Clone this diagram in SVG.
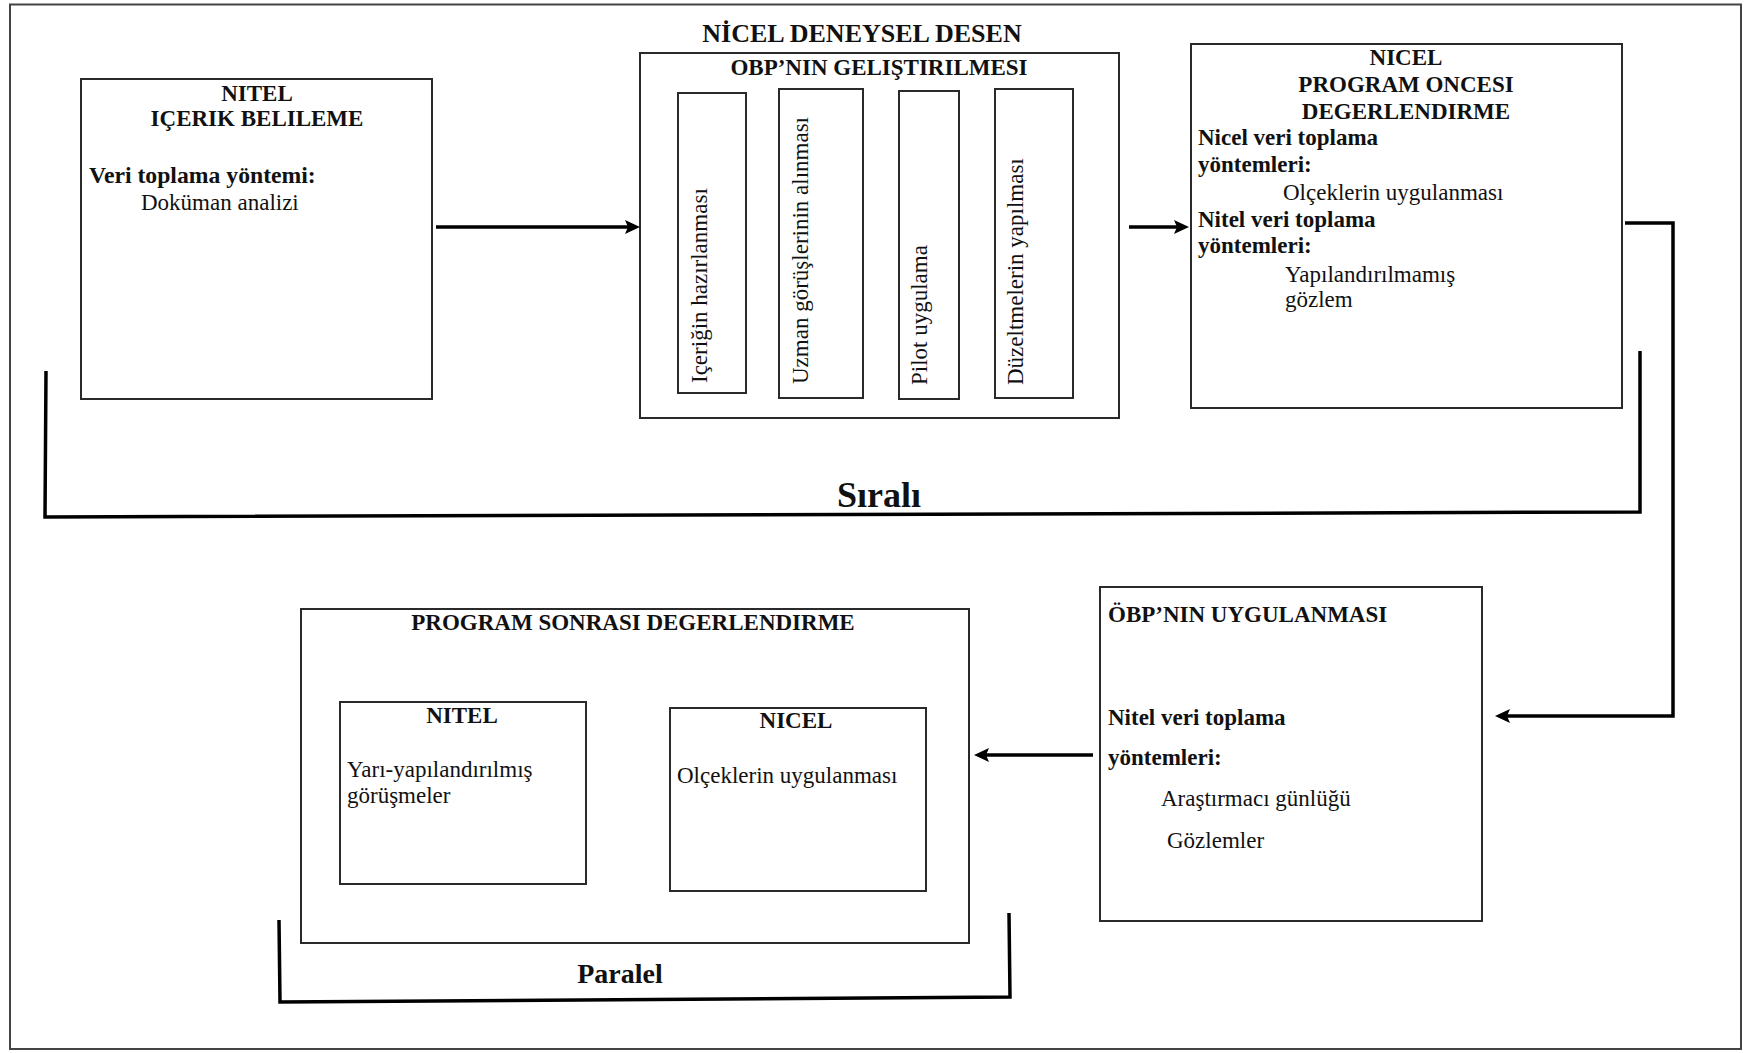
<svg xmlns="http://www.w3.org/2000/svg" width="1744" height="1053" viewBox="0 0 1744 1053">
<style>
.box{fill:#fff;stroke:#2a2a2a;stroke-width:2}
.frame{fill:none;stroke:#444;stroke-width:2}
.con{fill:none;stroke:#000;stroke-width:3.5}
.br{fill:none;stroke:#000;stroke-width:3.5}
.t{font-family:"Liberation Serif","Times New Roman",serif;font-size:23px;fill:#111}
.b{font-weight:bold}
.c{text-anchor:middle}
</style>
<defs>
<marker id="ah" markerUnits="userSpaceOnUse" markerWidth="16" markerHeight="16" viewBox="0 0 16 14" refX="10" refY="7" orient="auto">
<path d="M0,0 L15,7 L0,14 L3,7 z" fill="#000"/>
</marker>
</defs>
<rect width="1744" height="1053" fill="#fff"/>
<rect class="frame" x="10" y="4.5" width="1731" height="1044.5"/>

<g id="n-nitel-icerik">
<rect class="box" x="81" y="79" width="351" height="320"/>
<text class="t b c" x="257" y="101">NITEL</text>
<text class="t b c" x="257" y="126">IÇERIK BELILEME</text>
<text class="t b" x="89" y="183" style="font-size:23.7px">Veri toplama yöntemi:</text>
<text class="t" x="141" y="210">Doküman analizi</text>
</g>

<g id="n-obp-gelistirme">
<text class="t b c" x="862" y="42" style="font-size:26px">NİCEL DENEYSEL DESEN</text>
<rect class="box" x="640" y="53" width="479" height="365"/>
<text class="t b c" x="879" y="75">OBP’NIN GELIŞTIRILMESI</text>
<g id="n-icerik">
<rect class="box" x="678" y="93" width="68" height="300"/>
<text class="t" transform="translate(707,383) rotate(-90)">Içeriğin hazırlanması</text>
</g>
<g id="n-uzman">
<rect class="box" x="779" y="89" width="84" height="309"/>
<text class="t" transform="translate(808,384) rotate(-90)">Uzman görüşlerinin alınması</text>
</g>
<g id="n-pilot">
<rect class="box" x="899" y="91" width="60" height="308"/>
<text class="t" transform="translate(927,385) rotate(-90)">Pilot uygulama</text>
</g>
<g id="n-duzeltme">
<rect class="box" x="995" y="89" width="78" height="309"/>
<text class="t" transform="translate(1023,385) rotate(-90)">Düzeltmelerin yapılması</text>
</g>
</g>

<g id="n-program-oncesi">
<rect class="box" x="1191" y="44" width="431" height="364"/>
<text class="t b c" x="1406" y="65">NICEL</text>
<text class="t b c" x="1406" y="92">PROGRAM ONCESI</text>
<text class="t b c" x="1406" y="119">DEGERLENDIRME</text>
<text class="t b" x="1198" y="145">Nicel veri toplama</text>
<text class="t b" x="1198" y="172">yöntemleri:</text>
<text class="t" x="1283" y="200">Olçeklerin uygulanması</text>
<text class="t b" x="1198" y="227">Nitel veri toplama</text>
<text class="t b" x="1198" y="253">yöntemleri:</text>
<text class="t" x="1285" y="282">Yapılandırılmamış</text>
<text class="t" x="1285" y="307">gözlem</text>
</g>

<g id="n-obp-uygulama">
<rect class="box" x="1100" y="587" width="382" height="334"/>
<text class="t b" x="1108" y="622">ÖBP’NIN UYGULANMASI</text>
<text class="t b" x="1108" y="725">Nitel veri toplama</text>
<text class="t b" x="1108" y="765">yöntemleri:</text>
<text class="t" x="1161" y="806">Araştırmacı günlüğü</text>
<text class="t" x="1167" y="848">Gözlemler</text>
</g>

<g id="n-program-sonrasi">
<rect class="box" x="301" y="609" width="668" height="334"/>
<text class="t b c" x="633" y="630">PROGRAM SONRASI DEGERLENDIRME</text>
<g id="n-ps-nitel">
<rect class="box" x="340" y="702" width="246" height="182"/>
<text class="t b c" x="462" y="723">NITEL</text>
<text class="t" x="347" y="777">Yarı-yapılandırılmış</text>
<text class="t" x="347" y="803">görüşmeler</text>
</g>
<g id="n-ps-nicel">
<rect class="box" x="670" y="708" width="256" height="183"/>
<text class="t b c" x="796" y="728">NICEL</text>
<text class="t" x="677" y="783">Olçeklerin uygulanması</text>
</g>
</g>

<g id="connectors">
<line class="con" x1="436" y1="227" x2="635" y2="227" marker-end="url(#ah)"/>
<line class="con" x1="1129" y1="227" x2="1184" y2="227" marker-end="url(#ah)"/>
<polyline class="con" points="1625,223 1673,223 1673,716 1500,716" marker-end="url(#ah)"/>
<line class="con" x1="1093" y1="755" x2="979" y2="755" marker-end="url(#ah)"/>
</g>

<g id="brackets">
<polyline class="br" points="46,371 45,517 1640,512 1640,351"/>
<text class="t b c" x="879" y="507" style="font-size:36px">Sıralı</text>
<polyline class="br" points="279,920 280,1002 1010,997 1009,913"/>
<text class="t b c" x="620" y="983" style="font-size:28px">Paralel</text>
</g>
</svg>
